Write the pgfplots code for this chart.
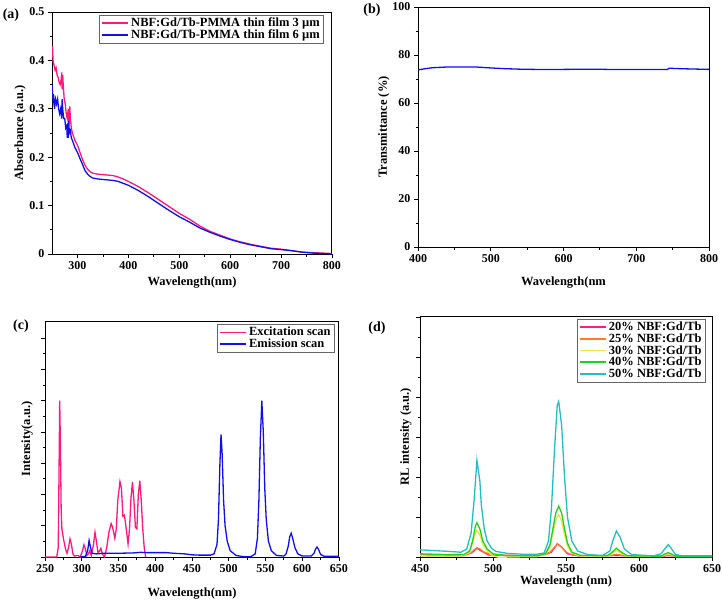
\documentclass[border=0pt]{standalone}
\usepackage{pgfplots}
\pgfplotsset{compat=1.18}
\usepackage{fontspec}
\setmainfont{Liberation Serif}
\definecolor{cpink}{RGB}{255,25,125}
\definecolor{cblue}{RGB}{15,15,235}
\definecolor{dpink}{RGB}{245,30,140}
\definecolor{dorange}{RGB}{255,125,40}
\definecolor{dyellow}{RGB}{240,225,70}
\definecolor{dgreen}{RGB}{30,210,30}
\definecolor{dcyan}{RGB}{35,190,195}
\newcommand{\tfont}{\fontsize{12}{14}\selectfont\bfseries}
\newcommand{\lfont}{\fontsize{12.5}{14}\selectfont\bfseries}
\newcommand{\pfont}{\fontsize{14}{16}\selectfont\bfseries}
\pgfplotsset{legend image code/.code={\draw[#1] (0pt,0pt) -- (26pt,0pt);}}
\pgfplotsset{
 every axis/.append style={
  scale only axis,
  font=\lfont,
  axis line style={line width=1pt},
  tick style={line width=0.8pt, black},
  tick align=outside,
  xtick pos=bottom, ytick pos=left,
  major tick length=4pt, minor tick length=2.5pt,
  minor tick num=1,
  /pgf/number format/assume math mode=true,
  tick label style={font=\tfont},
  label style={font=\lfont},
  legend cell align=left,
  legend style={draw=black!60, font=\lfont, inner xsep=2pt, inner ysep=1pt, row sep=-2.5pt},
 }
}
\begin{document}
\begin{tikzpicture}
\useasboundingbox (0,0) rectangle (722pt,-600pt);
% ---------------- (a)
\begin{axis}[at={(52pt,-12pt)}, anchor=north west, width=280pt, height=242pt,
  xmin=250, xmax=800, ymin=0, ymax=0.5,
  xtick={300,400,...,800}, ytick={0,0.1,...,0.5},
  yticklabels={0,0.1,0.2,0.3,0.4,0.5},
  xlabel={Wavelength(nm)}, ylabel={Absorbance (a.u.)},
  x label style={at={(axis description cs:0.5,-0.116)}, anchor=center},
  y label style={at={(axis description cs:-0.114,0.5)}, anchor=center},
  legend style={at={(rel axis cs:0.971,0.988)}, anchor=north east}]
\addlegendimage{cpink, line width=1.7pt}
\addlegendentry{NBF:Gd/Tb-PMMA thin film 3 µm}
\addlegendimage{cblue, line width=1.7pt}
\addlegendentry{NBF:Gd/Tb-PMMA thin film 6 µm}
\addplot[cpink, line width=1.3pt, no markers, forget plot] coordinates {(250,0.42)(251,0.43)(252,0.40)(254,0.39)(256,0.38)(258,0.385)(260,0.37)(262,0.365)(264,0.355)(266,0.35)(268,0.36)(269,0.375)(270,0.34)(271,0.37)(272,0.35)(274,0.32)(276,0.31)(278,0.29)(280,0.28)(282,0.30)(283,0.27)(285,0.305)(286,0.28)(288,0.26)(290,0.25)(295,0.235)(300,0.225)(305,0.21)(310,0.195)(315,0.183)(320,0.175)(325,0.17)(330,0.167)(340,0.165)(350,0.164)(360,0.163)(370,0.162)(380,0.159)(390,0.155)(400,0.150)(420,0.139)(440,0.126)(460,0.112)(480,0.098)(500,0.084)(520,0.072)(540,0.058)(560,0.047)(580,0.039)(600,0.031)(620,0.025)(640,0.020)(660,0.016)(680,0.012)(700,0.010)(720,0.007)(740,0.004)(760,0.003)(780,0.002)(800,0.001)};
\addplot[cblue, line width=1.3pt, no markers, forget plot] coordinates {(250,0.35)(251,0.33)(252,0.32)(253,0.33)(255,0.30)(257,0.32)(259,0.31)(261,0.32)(263,0.30)(265,0.29)(267,0.30)(269,0.28)(270,0.32)(271,0.30)(273,0.28)(275,0.28)(277,0.26)(279,0.265)(280,0.24)(281,0.27)(282,0.24)(283,0.275)(284,0.25)(286,0.255)(288,0.24)(290,0.235)(295,0.22)(300,0.21)(305,0.197)(310,0.185)(315,0.172)(320,0.165)(325,0.16)(330,0.157)(340,0.155)(350,0.154)(360,0.153)(370,0.152)(380,0.150)(390,0.146)(400,0.142)(420,0.131)(440,0.118)(460,0.104)(480,0.090)(500,0.077)(520,0.066)(540,0.054)(560,0.045)(580,0.037)(600,0.030)(620,0.024)(640,0.019)(660,0.015)(680,0.011)(700,0.009)(720,0.007)(740,0.004)(760,0.002)(780,0.001)(800,0.0)};
\end{axis}
\node[font=\pfont] at (11pt,-15pt) {(a)};
% ---------------- (b)
\begin{axis}[at={(418pt,-7pt)}, anchor=north west, width=291pt, height=240pt,
  xmin=400, xmax=800, ymin=0, ymax=100,
  xtick={400,500,...,800}, ytick={0,20,...,100},
  xlabel={Wavelength(nm}, ylabel={Transmittance (\%)},
  x label style={at={(axis description cs:0.5,-0.146)}, anchor=center},
  y label style={at={(axis description cs:-0.117,0.5)}, anchor=center}]
\addplot[cblue, line width=1.3pt, no markers] coordinates {(400,73.8)(410,74.3)(420,74.7)(440,75.0)(460,75.0)(480,75.0)(500,74.6)(520,74.3)(540,74.1)(560,74.0)(600,74.0)(640,74.1)(660,74.0)(700,74.0)(743,74.0)(745,74.5)(760,74.3)(800,74.0)};
\end{axis}
\node[font=\pfont] at (372pt,-10pt) {(b)};
% ---------------- (c)
\begin{axis}[at={(45pt,-321pt)}, anchor=north west, width=294pt, height=236pt,
  xmin=250, xmax=650, ymin=0, ymax=7.55,
  xtick={250,300,...,650}, ytick={0,1,...,7}, yticklabels={},
  xlabel={Wavelength(nm)}, ylabel={Intensity(a.u.)},
  x label style={at={(axis description cs:0.5,-0.153)}, anchor=center},
  y label style={at={(axis description cs:-0.061,0.5)}, anchor=center},
  legend style={at={(rel axis cs:0.986,0.987)}, anchor=north east}]
\addlegendimage{cpink, line width=1.7pt}
\addlegendentry{Excitation scan}
\addlegendimage{cblue, line width=1.7pt}
\addlegendentry{Emission scan}
\addplot[cpink, line width=1.3pt, no markers, forget plot] coordinates {(250,0)(266,0)(268,0.3)(269,2.5)(270,5.0)(271,3.5)(272,1.5)(273,0.9)(275,0.6)(278,0.25)(280,0.12)(282,0.3)(284,0.58)(286,0.4)(288,0.1)(290,0.03)(295,0.05)(298,0.0)(301,0.2)(303,0.39)(305,0.25)(307,0.05)(309,0.1)(311,0.2)(313,0.05)(316,0.4)(318,0.79)(320,0.5)(322,0.15)(324,0.18)(326,0.28)(328,0.1)(331,0.0)(334,0.3)(337,0.8)(340,1.07)(342,0.95)(345,0.6)(347,0.9)(349,1.8)(352,2.41)(354,2.2)(356,1.3)(358,1.34)(360,1.0)(363,0.42)(365,0.9)(367,1.9)(369,2.39)(371,1.8)(373,0.95)(375,0.9)(377,2.0)(379,2.44)(381,1.8)(383,0.9)(385,0.3)(387,0.0)};
\addplot[cblue, line width=1.3pt, no markers, forget plot] coordinates {(298,0)(305,0.02)(308,0.2)(310,0.53)(312,0.3)(314,0.12)(320,0.1)(330,0.12)(350,0.12)(370,0.13)(380,0.15)(390,0.14)(400,0.14)(415,0.14)(425,0.12)(440,0.1)(450,0.07)(460,0.06)(475,0.06)(480,0.1)(484,0.4)(486,1.2)(488,3.0)(489.5,3.92)(491,3.3)(493,1.8)(495,1.0)(498,0.5)(502,0.2)(510,0.05)(520,0.01)(530,0.01)(536,0.1)(539,0.6)(541,1.8)(543,3.8)(545,5.0)(547,4.0)(549,2.2)(551,1.2)(554,0.5)(558,0.2)(565,0.05)(575,0.03)(578,0.1)(581,0.35)(583,0.65)(585,0.76)(587,0.6)(590,0.3)(594,0.1)(600,0.03)(612,0.03)(616,0.12)(618,0.25)(620,0.32)(622,0.25)(625,0.08)(630,0.02)(650,0.02)};
\end{axis}
\node[font=\pfont] at (21pt,-326pt) {(c)};
% ---------------- (d)
\begin{axis}[at={(420pt,-316pt)}, anchor=north west, width=292pt, height=241pt,
  xmin=450, xmax=650, ymin=0, ymax=6.03,
  xtick={450,500,...,650}, ytick={0,1,...,6}, yticklabels={},
  xlabel={Wavelength (nm)}, ylabel={RL intensity (a.u.)},
  x label style={at={(axis description cs:0.5,-0.1)}, anchor=center},
  y label style={at={(axis description cs:-0.048,0.5)}, anchor=center},
  legend style={at={(rel axis cs:0.979,0.988)}, anchor=north east}]
\addlegendimage{dpink, line width=1.7pt}
\addlegendentry{20\% NBF:Gd/Tb}
\addlegendimage{dorange, line width=1.7pt}
\addlegendentry{25\% NBF:Gd/Tb}
\addlegendimage{dyellow, line width=1.7pt}
\addlegendentry{30\% NBF:Gd/Tb}
\addlegendimage{dgreen, line width=1.7pt}
\addlegendentry{40\% NBF:Gd/Tb}
\addlegendimage{dcyan, line width=1.7pt}
\addlegendentry{50\% NBF:Gd/Tb}
\addplot[dpink, line width=1.3pt, no markers, forget plot] coordinates {(450,0.03)(480,0.03)(486,0.12)(489,0.22)(492,0.15)(497,0.05)(530,0.02)(540,0.12)(544,0.33)(547,0.25)(551,0.08)(560,0.02)(584,0.04)(600,0.02)(620,0.03)(650,0.02)};
\addplot[dorange, line width=1.3pt, no markers, forget plot] coordinates {(450,0.06)(470,0.05)(480,0.05)(485,0.1)(487,0.18)(489,0.23)(491,0.2)(494,0.12)(500,0.05)(530,0.03)(538,0.08)(541,0.2)(544,0.32)(547,0.25)(550,0.12)(555,0.04)(580,0.03)(584.5,0.07)(590,0.03)(615,0.03)(620,0.05)(625,0.02)(650,0.02)};
\addplot[dyellow, line width=1.3pt, no markers, forget plot] coordinates {(450,0.03)(470,0.02)(480,0.03)(484,0.12)(486,0.35)(488,0.6)(489,0.67)(491,0.55)(493,0.32)(496,0.15)(500,0.03)(505,-0.02)(510,0.0)(530,0.01)(536,0.06)(539,0.25)(541,0.6)(543,0.92)(545,1.06)(547,0.9)(549,0.55)(551,0.28)(554,0.1)(560,0.02)(578,0.02)(581,0.08)(584.5,0.17)(588,0.09)(592,0.02)(615,0.01)(618,0.06)(620,0.08)(622,0.06)(625,0.01)(650,0.01)};
\addplot[dgreen, line width=1.3pt, no markers, forget plot] coordinates {(450,0.08)(470,0.06)(480,0.06)(484,0.15)(486,0.4)(488,0.78)(489,0.86)(491,0.7)(493,0.4)(496,0.2)(500,0.08)(510,0.03)(530,0.03)(536,0.08)(539,0.3)(541,0.7)(543,1.1)(545,1.27)(547,1.1)(549,0.7)(551,0.35)(554,0.12)(560,0.04)(578,0.03)(581,0.1)(584.5,0.22)(588,0.12)(592,0.03)(615,0.02)(618,0.08)(620,0.11)(622,0.08)(625,0.02)(650,0.02)};
\addplot[dcyan, line width=1.3pt, no markers, forget plot] coordinates {(450,0.18)(460,0.16)(470,0.14)(478,0.12)(482,0.2)(485,0.6)(487,1.4)(489,2.42)(491,1.9)(492,1.3)(494,0.7)(496,0.4)(499,0.22)(502,0.14)(510,0.09)(520,0.07)(530,0.07)(535,0.1)(538,0.4)(540,1.2)(542,2.6)(544,3.8)(545,3.89)(547,3.3)(549,2.0)(551,1.0)(554,0.4)(558,0.15)(565,0.06)(575,0.04)(580,0.15)(582,0.4)(584.5,0.65)(587,0.5)(590,0.2)(595,0.06)(610,0.03)(615,0.08)(618,0.22)(620,0.31)(622,0.22)(625,0.06)(630,0.03)(650,0.03)};
\end{axis}
\node[font=\pfont] at (377pt,-328pt) {(d)};
\end{tikzpicture}
\end{document}
